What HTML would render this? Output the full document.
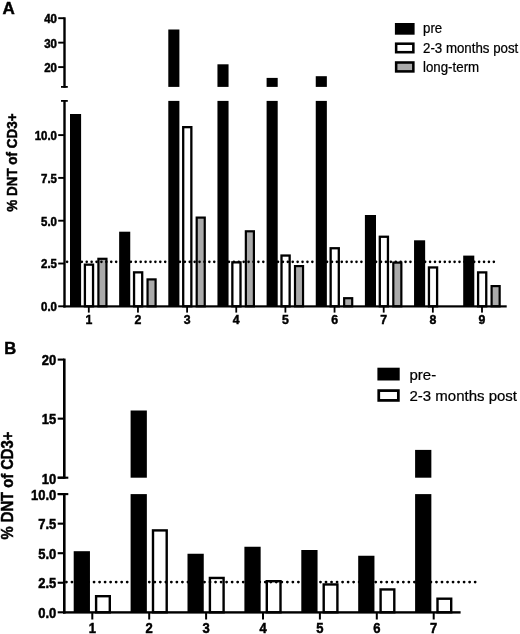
<!DOCTYPE html>
<html><head><meta charset="utf-8"><style>
html,body{margin:0;padding:0;background:#fff;}
body{width:520px;height:634px;overflow:hidden;}
svg{display:block;font-family:"Liberation Sans", sans-serif;will-change:transform;}
</style></head><body>
<svg width="520" height="634" viewBox="0 0 520 634" shape-rendering="geometricPrecision">
<rect width="520" height="634" fill="#fff"/>
<text x="2.60" y="14.00" font-size="17" font-weight="bold" text-anchor="start" stroke="#000" stroke-width="0.45" >A</text>
<rect x="63.30" y="17.30" width="2.40" height="70.50" fill="#000"/>
<rect x="63.30" y="100.00" width="2.40" height="207.50" fill="#000"/>
<rect x="61.00" y="86.00" width="6.80" height="1.80" fill="#000"/>
<rect x="61.00" y="100.00" width="6.80" height="1.80" fill="#000"/>
<rect x="58.20" y="17.25" width="6.30" height="1.90" fill="#000"/>
<text transform="translate(57.00,23.10) scale(1,1.11)" font-size="11.5" font-weight="bold" text-anchor="end" stroke="#000" stroke-width="0.45" >40</text>
<rect x="58.20" y="41.70" width="6.30" height="1.90" fill="#000"/>
<text transform="translate(57.00,47.55) scale(1,1.11)" font-size="11.5" font-weight="bold" text-anchor="end" stroke="#000" stroke-width="0.45" >30</text>
<rect x="58.20" y="66.15" width="6.30" height="1.90" fill="#000"/>
<text transform="translate(57.00,72.00) scale(1,1.11)" font-size="11.5" font-weight="bold" text-anchor="end" stroke="#000" stroke-width="0.45" >20</text>
<rect x="58.20" y="134.15" width="6.30" height="1.90" fill="#000"/>
<text transform="translate(57.00,140.00) scale(1,1.11)" font-size="11.5" font-weight="bold" text-anchor="end" stroke="#000" stroke-width="0.45" >10.0</text>
<rect x="58.20" y="176.95" width="6.30" height="1.90" fill="#000"/>
<text transform="translate(57.00,182.80) scale(1,1.11)" font-size="11.5" font-weight="bold" text-anchor="end" stroke="#000" stroke-width="0.45" >7.5</text>
<rect x="58.20" y="219.75" width="6.30" height="1.90" fill="#000"/>
<text transform="translate(57.00,225.60) scale(1,1.11)" font-size="11.5" font-weight="bold" text-anchor="end" stroke="#000" stroke-width="0.45" >5.0</text>
<rect x="58.20" y="262.55" width="6.30" height="1.90" fill="#000"/>
<text transform="translate(57.00,268.40) scale(1,1.11)" font-size="11.5" font-weight="bold" text-anchor="end" stroke="#000" stroke-width="0.45" >2.5</text>
<rect x="58.20" y="305.35" width="6.30" height="1.90" fill="#000"/>
<text transform="translate(57.00,311.20) scale(1,1.11)" font-size="11.5" font-weight="bold" text-anchor="end" stroke="#000" stroke-width="0.45" >0.0</text>
<text transform="translate(17.1,162.6) rotate(-90) scale(1,1.12)" font-size="13.45" font-weight="bold" text-anchor="middle" stroke="#000" stroke-width="0.45">% DNT of CD3+</text>
<rect x="70.00" y="114.00" width="11.10" height="192.30" fill="#000"/>
<rect x="84.90" y="264.65" width="8.15" height="41.65" fill="#fff" stroke="#000" stroke-width="2.3"/>
<rect x="98.40" y="258.80" width="8.05" height="47.50" fill="#aaaaaa" stroke="#000" stroke-width="2.2"/>
<rect x="119.15" y="231.70" width="11.10" height="74.60" fill="#000"/>
<rect x="134.05" y="272.35" width="8.15" height="33.95" fill="#fff" stroke="#000" stroke-width="2.3"/>
<rect x="147.55" y="279.40" width="8.05" height="26.90" fill="#aaaaaa" stroke="#000" stroke-width="2.2"/>
<rect x="168.30" y="29.50" width="11.10" height="57.40" fill="#000"/>
<rect x="168.30" y="100.90" width="11.10" height="205.40" fill="#000"/>
<rect x="183.20" y="127.15" width="8.15" height="179.15" fill="#fff" stroke="#000" stroke-width="2.3"/>
<rect x="196.70" y="217.60" width="8.05" height="88.70" fill="#aaaaaa" stroke="#000" stroke-width="2.2"/>
<rect x="217.45" y="64.30" width="11.10" height="22.60" fill="#000"/>
<rect x="217.45" y="100.90" width="11.10" height="205.40" fill="#000"/>
<rect x="232.35" y="262.35" width="8.15" height="43.95" fill="#fff" stroke="#000" stroke-width="2.3"/>
<rect x="245.85" y="231.30" width="8.05" height="75.00" fill="#aaaaaa" stroke="#000" stroke-width="2.2"/>
<rect x="266.60" y="77.90" width="11.10" height="9.00" fill="#000"/>
<rect x="266.60" y="100.90" width="11.10" height="205.40" fill="#000"/>
<rect x="281.50" y="255.55" width="8.15" height="50.75" fill="#fff" stroke="#000" stroke-width="2.3"/>
<rect x="295.00" y="266.10" width="8.05" height="40.20" fill="#aaaaaa" stroke="#000" stroke-width="2.2"/>
<rect x="315.75" y="76.20" width="11.10" height="10.70" fill="#000"/>
<rect x="315.75" y="100.90" width="11.10" height="205.40" fill="#000"/>
<rect x="330.65" y="248.25" width="8.15" height="58.05" fill="#fff" stroke="#000" stroke-width="2.3"/>
<rect x="344.15" y="298.20" width="8.05" height="8.10" fill="#aaaaaa" stroke="#000" stroke-width="2.2"/>
<rect x="364.90" y="215.00" width="11.10" height="91.30" fill="#000"/>
<rect x="379.80" y="236.75" width="8.15" height="69.55" fill="#fff" stroke="#000" stroke-width="2.3"/>
<rect x="393.30" y="262.60" width="8.05" height="43.70" fill="#aaaaaa" stroke="#000" stroke-width="2.2"/>
<rect x="414.05" y="240.30" width="11.10" height="66.00" fill="#000"/>
<rect x="428.95" y="267.45" width="8.15" height="38.85" fill="#fff" stroke="#000" stroke-width="2.3"/>
<rect x="463.20" y="255.60" width="11.10" height="50.70" fill="#000"/>
<rect x="478.10" y="272.40" width="8.15" height="33.90" fill="#fff" stroke="#000" stroke-width="2.3"/>
<rect x="491.60" y="286.10" width="8.05" height="20.20" fill="#aaaaaa" stroke="#000" stroke-width="2.2"/>
<rect x="63.30" y="305.30" width="443.40" height="2.20" fill="#000"/>
<rect x="87.90" y="307.00" width="1.80" height="5.60" fill="#000"/>
<text x="88.80" y="324.20" font-size="12.3" font-weight="bold" text-anchor="middle" stroke="#000" stroke-width="0.45" >1</text>
<rect x="137.05" y="307.00" width="1.80" height="5.60" fill="#000"/>
<text x="137.95" y="324.20" font-size="12.3" font-weight="bold" text-anchor="middle" stroke="#000" stroke-width="0.45" >2</text>
<rect x="186.20" y="307.00" width="1.80" height="5.60" fill="#000"/>
<text x="187.10" y="324.20" font-size="12.3" font-weight="bold" text-anchor="middle" stroke="#000" stroke-width="0.45" >3</text>
<rect x="235.35" y="307.00" width="1.80" height="5.60" fill="#000"/>
<text x="236.25" y="324.20" font-size="12.3" font-weight="bold" text-anchor="middle" stroke="#000" stroke-width="0.45" >4</text>
<rect x="284.50" y="307.00" width="1.80" height="5.60" fill="#000"/>
<text x="285.40" y="324.20" font-size="12.3" font-weight="bold" text-anchor="middle" stroke="#000" stroke-width="0.45" >5</text>
<rect x="333.65" y="307.00" width="1.80" height="5.60" fill="#000"/>
<text x="334.55" y="324.20" font-size="12.3" font-weight="bold" text-anchor="middle" stroke="#000" stroke-width="0.45" >6</text>
<rect x="382.80" y="307.00" width="1.80" height="5.60" fill="#000"/>
<text x="383.70" y="324.20" font-size="12.3" font-weight="bold" text-anchor="middle" stroke="#000" stroke-width="0.45" >7</text>
<rect x="431.95" y="307.00" width="1.80" height="5.60" fill="#000"/>
<text x="432.85" y="324.20" font-size="12.3" font-weight="bold" text-anchor="middle" stroke="#000" stroke-width="0.45" >8</text>
<rect x="481.10" y="307.00" width="1.80" height="5.60" fill="#000"/>
<text x="482.00" y="324.20" font-size="12.3" font-weight="bold" text-anchor="middle" stroke="#000" stroke-width="0.45" >9</text>
<line x1="67.1" y1="261.85" x2="494.0" y2="261.85" stroke="#000" stroke-width="2.6" stroke-linecap="round" stroke-dasharray="0.01 4.895"/>
<rect x="394.90" y="23.00" width="19.70" height="11.70" fill="#000"/>
<text transform="translate(423.00,33.20) scale(1,1.1)" font-size="13.3" font-weight="normal" text-anchor="start" stroke="#000" stroke-width="0.22" >pre</text>
<rect x="396.15" y="43.70" width="17.20" height="8.50" fill="#fff" stroke="#000" stroke-width="2.55"/>
<text transform="translate(423.00,52.70) scale(1,1.1)" font-size="13.3" font-weight="normal" text-anchor="start" stroke="#000" stroke-width="0.22" >2-3 months post</text>
<rect x="396.15" y="62.50" width="17.20" height="8.90" fill="#aaaaaa" stroke="#000" stroke-width="2.55"/>
<text transform="translate(423.00,71.90) scale(1,1.1)" font-size="13.3" font-weight="normal" text-anchor="start" stroke="#000" stroke-width="0.22" >long-term</text>
<text transform="translate(4.30,353.90) scale(1,1.03)" font-size="16.6" font-weight="bold" text-anchor="start" stroke="#000" stroke-width="0.45" >B</text>
<rect x="63.00" y="358.60" width="2.60" height="120.10" fill="#000"/>
<rect x="63.00" y="493.10" width="2.60" height="120.50" fill="#000"/>
<rect x="57.70" y="476.65" width="10.60" height="2.10" fill="#000"/>
<rect x="57.70" y="493.05" width="10.60" height="2.10" fill="#000"/>
<rect x="57.70" y="358.55" width="6.60" height="2.10" fill="#000"/>
<text transform="translate(56.30,365.10) scale(1,1.1)" font-size="13" font-weight="bold" text-anchor="end" stroke="#000" stroke-width="0.45" >20</text>
<rect x="57.70" y="417.60" width="6.60" height="2.10" fill="#000"/>
<text transform="translate(56.30,424.15) scale(1,1.1)" font-size="13" font-weight="bold" text-anchor="end" stroke="#000" stroke-width="0.45" >15</text>
<rect x="57.70" y="476.65" width="6.60" height="2.10" fill="#000"/>
<text transform="translate(56.30,484.10) scale(1,1.1)" font-size="13" font-weight="bold" text-anchor="end" stroke="#000" stroke-width="0.45" >10</text>
<rect x="57.70" y="493.05" width="6.60" height="2.10" fill="#000"/>
<text transform="translate(56.30,499.60) scale(1,1.1)" font-size="13" font-weight="bold" text-anchor="end" stroke="#000" stroke-width="0.45" >10.0</text>
<rect x="57.70" y="522.60" width="6.60" height="2.10" fill="#000"/>
<text transform="translate(56.30,529.15) scale(1,1.1)" font-size="13" font-weight="bold" text-anchor="end" stroke="#000" stroke-width="0.45" >7.5</text>
<rect x="57.70" y="552.15" width="6.60" height="2.10" fill="#000"/>
<text transform="translate(56.30,558.70) scale(1,1.1)" font-size="13" font-weight="bold" text-anchor="end" stroke="#000" stroke-width="0.45" >5.0</text>
<rect x="57.70" y="581.70" width="6.60" height="2.10" fill="#000"/>
<text transform="translate(56.30,588.25) scale(1,1.1)" font-size="13" font-weight="bold" text-anchor="end" stroke="#000" stroke-width="0.45" >2.5</text>
<rect x="57.70" y="611.25" width="6.60" height="2.10" fill="#000"/>
<text transform="translate(56.30,617.80) scale(1,1.1)" font-size="13" font-weight="bold" text-anchor="end" stroke="#000" stroke-width="0.45" >0.0</text>
<text transform="translate(12.5,485.6) rotate(-90) scale(1,1.06)" font-size="14.76" font-weight="bold" text-anchor="middle" stroke="#000" stroke-width="0.45">% DNT of CD3+</text>
<rect x="73.70" y="551.20" width="16.25" height="61.10" fill="#000"/>
<rect x="96.10" y="596.20" width="13.70" height="16.10" fill="#fff" stroke="#000" stroke-width="2.4"/>
<rect x="130.60" y="410.50" width="16.25" height="67.20" fill="#000"/>
<rect x="130.60" y="494.10" width="16.25" height="118.20" fill="#000"/>
<rect x="153.00" y="530.40" width="13.70" height="81.90" fill="#fff" stroke="#000" stroke-width="2.4"/>
<rect x="187.50" y="553.75" width="16.25" height="58.55" fill="#000"/>
<rect x="209.90" y="577.95" width="13.70" height="34.35" fill="#fff" stroke="#000" stroke-width="2.4"/>
<rect x="244.40" y="546.75" width="16.25" height="65.55" fill="#000"/>
<rect x="266.80" y="581.20" width="13.70" height="31.10" fill="#fff" stroke="#000" stroke-width="2.4"/>
<rect x="301.30" y="550.00" width="16.25" height="62.30" fill="#000"/>
<rect x="323.70" y="584.45" width="13.70" height="27.85" fill="#fff" stroke="#000" stroke-width="2.4"/>
<rect x="358.20" y="555.75" width="16.25" height="56.55" fill="#000"/>
<rect x="380.60" y="589.45" width="13.70" height="22.85" fill="#fff" stroke="#000" stroke-width="2.4"/>
<rect x="415.10" y="449.90" width="16.25" height="27.80" fill="#000"/>
<rect x="415.10" y="494.10" width="16.25" height="118.20" fill="#000"/>
<rect x="437.50" y="598.70" width="13.70" height="13.60" fill="#fff" stroke="#000" stroke-width="2.4"/>
<rect x="63.00" y="611.20" width="397.60" height="2.40" fill="#000"/>
<rect x="91.30" y="613.00" width="2.00" height="6.50" fill="#000"/>
<text transform="translate(92.30,632.50) scale(1,1.07)" font-size="13" font-weight="bold" text-anchor="middle" stroke="#000" stroke-width="0.45" >1</text>
<rect x="148.20" y="613.00" width="2.00" height="6.50" fill="#000"/>
<text transform="translate(149.20,632.50) scale(1,1.07)" font-size="13" font-weight="bold" text-anchor="middle" stroke="#000" stroke-width="0.45" >2</text>
<rect x="205.10" y="613.00" width="2.00" height="6.50" fill="#000"/>
<text transform="translate(206.10,632.50) scale(1,1.07)" font-size="13" font-weight="bold" text-anchor="middle" stroke="#000" stroke-width="0.45" >3</text>
<rect x="262.00" y="613.00" width="2.00" height="6.50" fill="#000"/>
<text transform="translate(263.00,632.50) scale(1,1.07)" font-size="13" font-weight="bold" text-anchor="middle" stroke="#000" stroke-width="0.45" >4</text>
<rect x="318.90" y="613.00" width="2.00" height="6.50" fill="#000"/>
<text transform="translate(319.90,632.50) scale(1,1.07)" font-size="13" font-weight="bold" text-anchor="middle" stroke="#000" stroke-width="0.45" >5</text>
<rect x="375.80" y="613.00" width="2.00" height="6.50" fill="#000"/>
<text transform="translate(376.80,632.50) scale(1,1.07)" font-size="13" font-weight="bold" text-anchor="middle" stroke="#000" stroke-width="0.45" >6</text>
<rect x="432.70" y="613.00" width="2.00" height="6.50" fill="#000"/>
<text transform="translate(433.70,632.50) scale(1,1.07)" font-size="13" font-weight="bold" text-anchor="middle" stroke="#000" stroke-width="0.45" >7</text>
<line x1="66.43" y1="582.1" x2="475.4" y2="582.1" stroke="#000" stroke-width="2.8" stroke-linecap="round" stroke-dasharray="0.01 5.513"/>
<rect x="377.40" y="367.70" width="22.30" height="12.80" fill="#000"/>
<text transform="translate(409.50,379.70) scale(1,1.03)" font-size="15" font-weight="normal" text-anchor="start" stroke="#000" stroke-width="0.22" >pre-</text>
<rect x="378.75" y="390.60" width="19.60" height="9.80" fill="#fff" stroke="#000" stroke-width="2.75"/>
<text transform="translate(409.50,400.80) scale(1,1.03)" font-size="15" font-weight="normal" text-anchor="start" stroke="#000" stroke-width="0.22" >2-3 months post</text>
</svg>
</body></html>
